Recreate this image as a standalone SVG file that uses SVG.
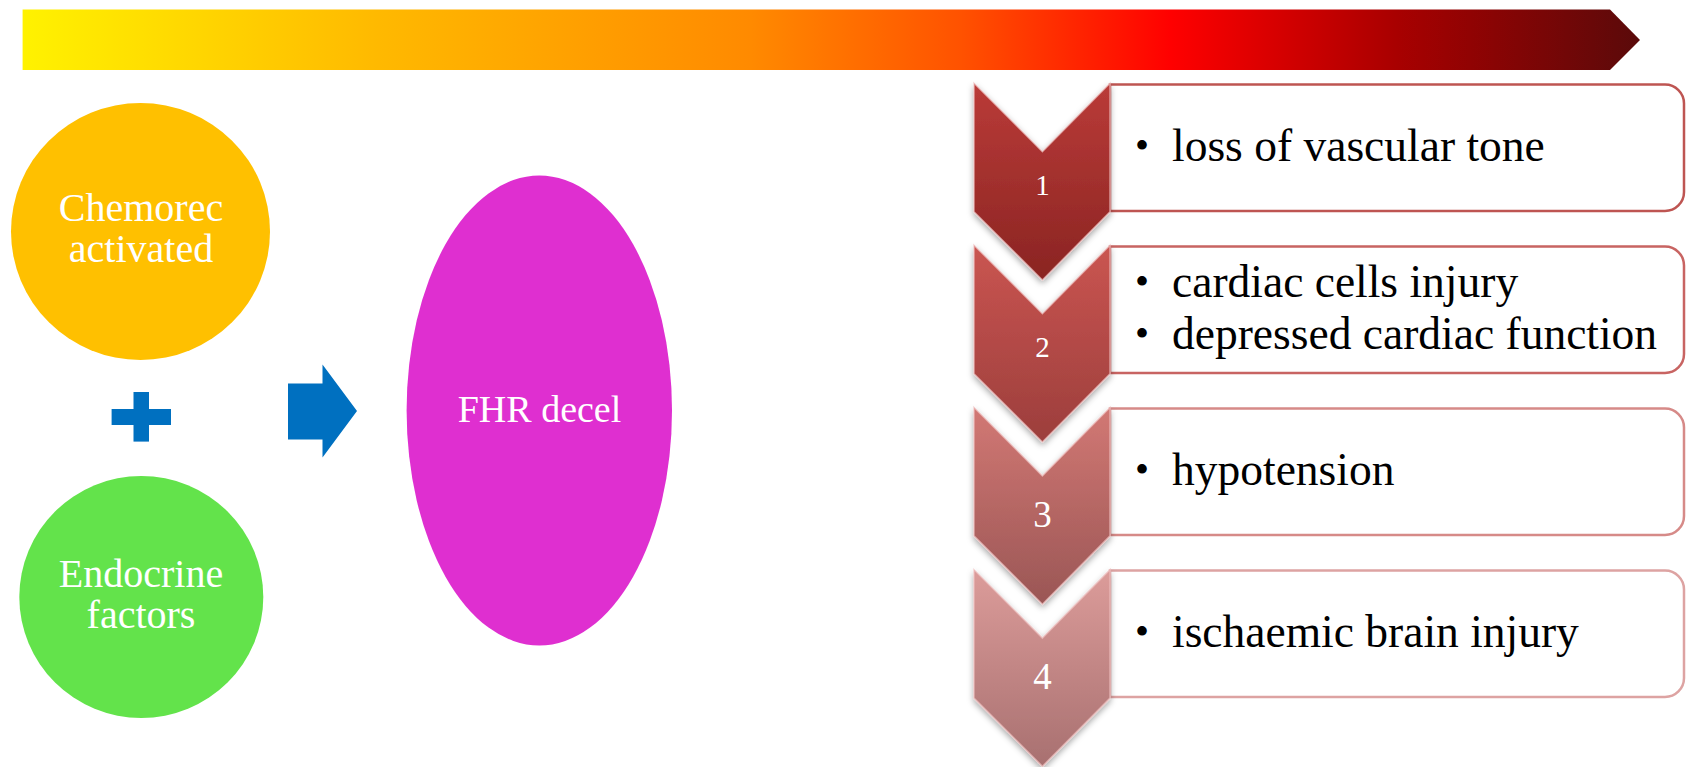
<svg xmlns="http://www.w3.org/2000/svg" width="1686" height="767" viewBox="0 0 1686 767">
<style>
.w{fill:#ffffff;font-family:"Liberation Serif","Times New Roman",serif;text-anchor:middle}
.t{fill:#000000;font-family:"Liberation Serif","Times New Roman",serif;font-size:45.5px}
.b{fill:#000000;font-family:"Liberation Serif","Times New Roman",serif;font-size:40px}
.box{fill:#ffffff;stroke-width:2.5}
.chev{stroke:#f0c0c0;stroke-opacity:0.7;stroke-width:1.5;filter:url(#sh)}
</style>
<defs>
<linearGradient id="bar" x1="0" y1="0" x2="1" y2="0">
<stop offset="0" stop-color="#FFF200"/>
<stop offset="0.22" stop-color="#FFB900"/>
<stop offset="0.45" stop-color="#FF8A00"/>
<stop offset="0.58" stop-color="#FF5200"/>
<stop offset="0.71" stop-color="#FF0000"/>
<stop offset="0.85" stop-color="#A80000"/>
<stop offset="1" stop-color="#5A0A0A"/>
</linearGradient>
<linearGradient id="c1" x1="0" y1="0" x2="0" y2="1"><stop offset="0" stop-color="#BA3B38"/><stop offset="1" stop-color="#8A2422"/></linearGradient>
<linearGradient id="c2" x1="0" y1="0" x2="0" y2="1"><stop offset="0" stop-color="#CA5551"/><stop offset="1" stop-color="#9C3E3C"/></linearGradient>
<linearGradient id="c3" x1="0" y1="0" x2="0" y2="1"><stop offset="0" stop-color="#D27874"/><stop offset="1" stop-color="#9A5655"/></linearGradient>
<linearGradient id="c4" x1="0" y1="0" x2="0" y2="1"><stop offset="0" stop-color="#DC9C9A"/><stop offset="1" stop-color="#A87070"/></linearGradient>
<filter id="sh" x="-20%" y="-10%" width="140%" height="130%">
<feDropShadow dx="0" dy="3" stdDeviation="3" flood-color="#000" flood-opacity="0.35"/>
</filter>
<path id="chevShape" d="M0,0 L68.4,68.4 L136,0 L136,128.4 L68.4,196.7 L0,128.4 Z"/>
</defs>

<g id="timeline-bar">
<polygon points="22.6,9.5 1610,9.5 1640,40 1610,70 22.6,70" fill="url(#bar)"/>
</g>

<g id="chemorec">
<ellipse cx="140.5" cy="231.5" rx="129.5" ry="128.5" fill="#FFC000"/>
<text class="w" x="141" y="220.5" font-size="40">Chemorec</text>
<text class="w" x="141" y="262" font-size="40">activated</text>
</g>

<g id="plus">
<rect x="111.6" y="409" width="59.4" height="16" fill="#0070C0"/>
<rect x="133.5" y="392" width="15.5" height="49.6" fill="#0070C0"/>
</g>

<g id="endocrine">
<ellipse cx="141.3" cy="597" rx="122" ry="121" fill="#63E34B"/>
<text class="w" x="141" y="586.5" font-size="40">Endocrine</text>
<text class="w" x="141" y="627.5" font-size="40">factors</text>
</g>

<g id="connectors">
<polygon points="288,383.5 322.5,383.5 322.5,364.5 357,411 322.5,457.5 322.5,439.5 288,439.5" fill="#0070C0"/>
</g>

<g id="fhr">
<ellipse cx="539.3" cy="410.5" rx="132.7" ry="235" fill="#DF2FD0"/>
<text class="w" x="539.5" y="422" font-size="38">FHR decel</text>
</g>

<g id="step1">
<path class="box" d="M1110,84.5 H1665 A19,19 0 0 1 1684,103.5 V192 A19,19 0 0 1 1665,211 H1110 Z" stroke="#BE5552"/>
<use href="#chevShape" x="974" y="83.3" fill="url(#c1)" class="chev"/>
<text class="w" x="1042.5" y="195.3" font-size="29">1</text>
<text class="b" x="1135" y="159">•</text>
<text class="t" x="1172" y="160.5">loss of vascular tone</text>
</g>

<g id="step2">
<path class="box" d="M1110,246.5 H1665 A19,19 0 0 1 1684,265.5 V354 A19,19 0 0 1 1665,373 H1110 Z" stroke="#C86462"/>
<use href="#chevShape" x="974" y="245.3" fill="url(#c2)" class="chev"/>
<text class="w" x="1042.5" y="357.3" font-size="29">2</text>
<text class="b" x="1135" y="295">•</text>
<text class="t" x="1172" y="296.5">cardiac cells injury</text>
<text class="b" x="1135" y="347">•</text>
<text class="t" x="1172" y="348.5">depressed cardiac function</text>
</g>

<g id="step3">
<path class="box" d="M1110,408.5 H1665 A19,19 0 0 1 1684,427.5 V516 A19,19 0 0 1 1665,535 H1110 Z" stroke="#D68A88"/>
<use href="#chevShape" x="974" y="407.5" fill="url(#c3)" class="chev"/>
<text class="w" x="1042.5" y="527" font-size="37">3</text>
<text class="b" x="1135" y="483">•</text>
<text class="t" x="1172" y="484.5">hypotension</text>
</g>

<g id="step4">
<path class="box" d="M1110,570.5 H1665 A19,19 0 0 1 1684,589.5 V678 A19,19 0 0 1 1665,697 H1110 Z" stroke="#DDA3A2"/>
<use href="#chevShape" x="974" y="569.7" fill="url(#c4)" class="chev"/>
<text class="w" x="1042.5" y="689" font-size="37">4</text>
<text class="b" x="1135" y="645">•</text>
<text class="t" x="1172" y="646.5">ischaemic brain injury</text>
</g>
</svg>
